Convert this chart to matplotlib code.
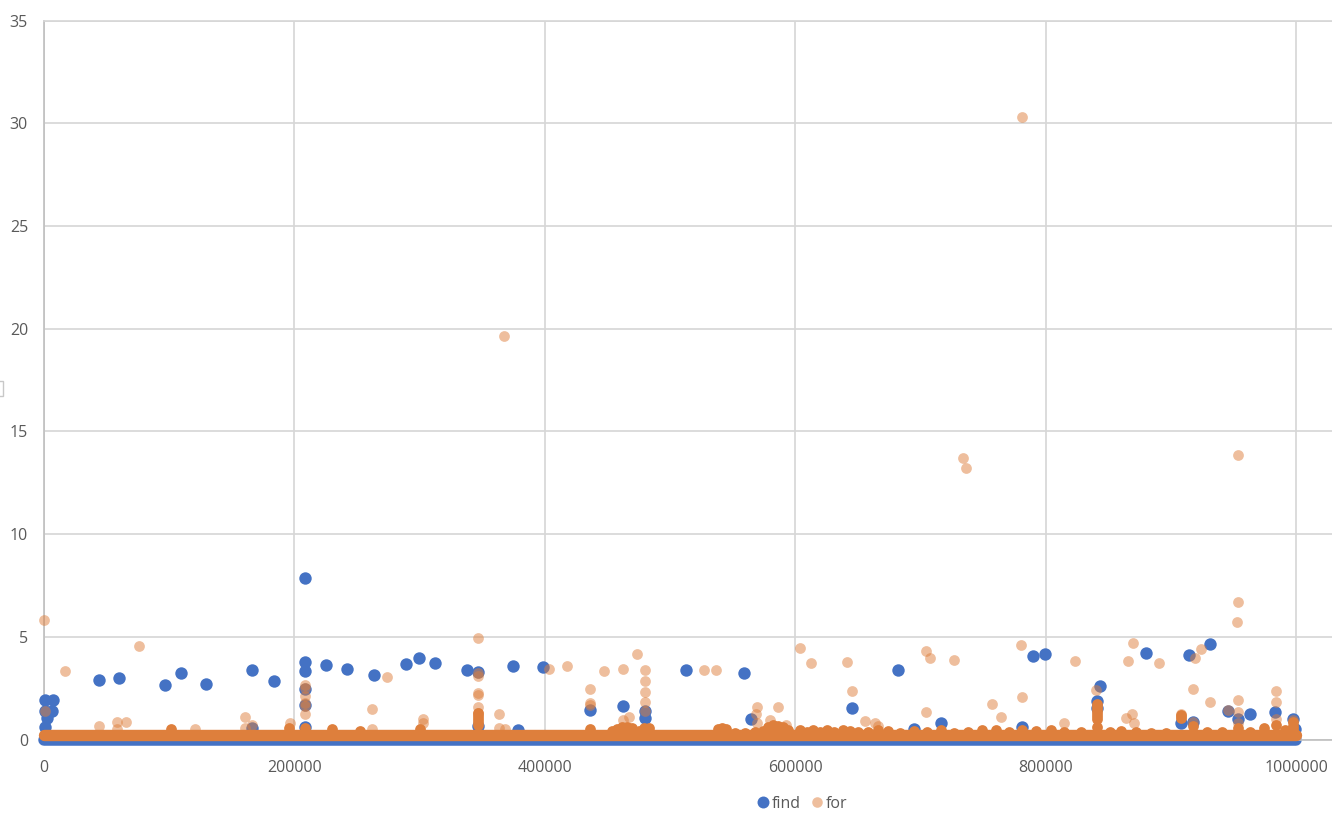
import matplotlib
matplotlib.use("Agg")
import matplotlib.pyplot as plt
from matplotlib.lines import Line2D
from matplotlib.patches import Rectangle

plt.rcParams['font.family'] = ['Open Sans', 'DejaVu Sans']

find_x = [500, 7200, 6400, 800, 2200, 500, 43700, 59900, 96400, 109200, 129400, 166100, 183500,
          208200, 208200, 208200, 208200, 208200, 225200, 242000, 263600, 289100, 299500, 312000,
          337600, 346600, 374300, 398300, 436100, 462200, 480000, 480000, 512500, 558800, 564400,
          645300, 681800, 694900, 378600, 716200, 781100, 789900, 799200, 843200, 841000, 841000,
          879900, 914300, 931300, 907900, 917700, 945700, 953600, 963000, 983200, 997600, 998900,
          346600, 166100, 208200]
find_y = [1.94, 1.94, 1.41, 1.41, 1.07, 0.63, 2.92, 3.01, 2.63, 3.26, 2.72, 3.40, 2.87,
          7.88, 3.79, 3.35, 2.48, 1.70, 3.65, 3.45, 3.16, 3.69, 3.99, 3.74,
          3.37, 3.27, 3.56, 3.51, 1.42, 1.62, 1.39, 1.04, 3.37, 3.22, 1.02,
          1.52, 3.37, 0.53, 0.45, 0.81, 0.62, 4.05, 4.15, 2.59, 1.86, 1.55,
          4.23, 4.10, 4.65, 0.81, 0.84, 1.38, 1.01, 1.26, 1.33, 1.01, 0.49,
          0.65, 0.55, 0.63]
find_band_x = [0, 1000000]
find_band_y = [0.0, 0.0]

for_x = [300, 16800, 75900, 500, 43900, 58100, 65200, 58100, 120600, 160500, 166100, 160500, 196500,
         208200, 208200, 208200, 208200, 208200, 208200, 273700, 262000, 262000, 302500, 302500,
         346600, 346600, 346600, 346600, 346600, 346600, 346600, 363400, 363400, 368200, 403300,
         417500, 436100, 436100, 436100, 447000, 462200, 473600, 480000, 480000, 480000, 480000,
         480000, 467000, 462200, 527100, 536500, 569500, 568400, 569500, 586200, 579800, 592400,
         603600, 612400, 641100, 645300, 655500, 664000, 666100, 704400, 707600, 726800, 780300,
         704400, 757200, 764100, 781100, 814400, 823500, 865500, 869500, 890300, 919100, 924100,
         917400, 931300, 840500, 864200, 869000, 870300, 907900, 907900, 917700, 945700, 953600,
         953600, 983900, 983900, 983900, 997600, 953600, 952800, 953600, 953600, 733900, 736300,
         781100, 367400]
for_y = [5.84, 3.35, 4.57, 1.38, 0.66, 0.84, 0.84, 0.53, 0.49, 1.08, 0.71, 0.55, 0.81,
         2.67, 2.53, 2.11, 1.78, 1.62, 1.26, 3.03, 1.47, 0.49, 1.02, 0.81,
         4.96, 3.08, 3.25, 2.27, 2.19, 1.57, 1.30, 1.22, 0.57, 0.52, 3.45,
         3.56, 2.48, 1.78, 1.68, 3.32, 3.45, 4.15, 3.40, 2.83, 2.30, 1.81,
         1.39, 1.10, 0.97, 3.37, 3.37, 1.60, 1.22, 0.81, 1.56, 0.97, 0.73,
         4.47, 3.71, 3.79, 2.38, 0.89, 0.81, 0.68, 4.33, 3.95, 3.85, 4.58,
         1.33, 1.72, 1.08, 2.06, 0.79, 3.81, 3.81, 4.70, 3.71, 3.95, 4.39,
         2.48, 1.81, 2.40, 1.04, 1.22, 0.81, 1.26, 1.10, 0.84, 1.43, 1.33,
         0.80, 2.35, 1.81, 1.00, 0.97, 6.71, 5.74, 1.94, 13.87, 13.71, 13.22,
         30.29, 19.64]
for_band_x = [0, 1000000]
for_band_y = [0.24, 0.24]
for_dense_x = [101400, 195900, 208200, 230000, 252400, 300300, 346600, 346600, 346600, 346600,
               346600, 436100, 454000, 458000, 462000, 466000, 470000, 475000, 479000, 483000,
               538000, 541500, 545000, 552000, 560000, 568000, 574000, 578000, 582000, 586000,
               590000, 594000, 603800, 609000, 614200, 620000, 625100, 631000, 638100, 644000,
               650000, 658000, 666100, 674100, 684000, 694900, 705000, 716200, 727000, 738000,
               749000, 760000, 771000, 781100, 792000, 804000, 815000, 828000, 841000, 841000,
               841000, 841000, 841000, 841000, 841000, 851000, 860000, 872000, 884000, 896000,
               907900, 907900, 917700, 929000, 941000, 953600, 963000, 974100, 983900, 991000,
               997600, 997600, 997600]
for_dense_y = [0.50, 0.55, 0.55, 0.50, 0.42, 0.50, 1.30, 1.15, 1.00, 0.85, 0.70, 0.50, 0.42, 0.52,
               0.60, 0.62, 0.55, 0.40, 0.55, 0.55, 0.50, 0.57, 0.50, 0.34, 0.32, 0.38, 0.42, 0.62,
               0.70, 0.68, 0.62, 0.48, 0.45, 0.38, 0.45, 0.36, 0.48, 0.38, 0.45, 0.40, 0.38, 0.36,
               0.45, 0.42, 0.34, 0.40, 0.38, 0.45, 0.34, 0.36, 0.44, 0.46, 0.36, 0.48, 0.40, 0.44,
               0.38, 0.36, 1.75, 1.60, 1.45, 1.30, 1.15, 1.00, 0.60, 0.38, 0.42, 0.36, 0.32, 0.34,
               1.20, 1.05, 0.65, 0.38, 0.36, 0.55, 0.38, 0.55, 0.70, 0.48, 0.85, 0.65, 0.50]

series_names = ['find', 'for']
x_ticks = [0, 200000, 400000, 600000, 800000, 1000000]
y_ticks = [0, 5, 10, 15, 20, 25, 30, 35]

BLUE = '#4472C4'
ORANGE = '#DE7F3C'
GRID = '#D6D6D6'
AXIS = '#BFBFBF'
TEXT = '#595959'

W, H = 1332, 824
fig = plt.figure(figsize=(W / 100, H / 100), dpi=100, facecolor='white')
ax = fig.add_axes([44 / W, (H - 739.5) / H, (W - 44) / W, 719 / H])
ax.set_xlim(0, 1028700)
ax.set_ylim(0, 35)
ax.set_xticks(x_ticks)
ax.set_yticks(y_ticks)
ax.set_xticklabels([str(v) for v in x_ticks])
ax.set_yticklabels([str(v) for v in y_ticks])
ax.tick_params(length=0, labelsize=11.5, labelcolor=TEXT)
ax.tick_params(axis='x', pad=15)
ax.tick_params(axis='y', pad=11.5)
ax.grid(True, color=GRID, lw=1.2, zorder=0)
ax.set_axisbelow(True)
ax.spines['right'].set_visible(False)
for side in ('left', 'top', 'bottom'):
    ax.spines[side].set_color(AXIS)
    ax.spines[side].set_linewidth(1.2)
ax.spines['top'].set_color(GRID)

ax.plot(find_band_x, find_band_y, color=BLUE, lw=8.3, solid_capstyle='round', clip_on=False, zorder=2)
ax.scatter(find_x, find_y, s=80, color=BLUE, linewidths=0, clip_on=False, zorder=3)
ax.scatter(for_x, for_y, s=60, color=ORANGE, alpha=0.5, linewidths=0, clip_on=False, zorder=4)
ax.scatter(for_dense_x, for_dense_y, s=60, color=ORANGE, linewidths=0, clip_on=False, zorder=5)
ax.plot(for_band_x, for_band_y, color=ORANGE, lw=8.2, solid_capstyle='round', clip_on=False, zorder=5)

handles = [Line2D([], [], ls='', marker='o', ms=8.6, mfc=BLUE, mec='none'),
           Line2D([], [], ls='', marker='o', ms=7.6, mfc=ORANGE, mec='none', alpha=0.5)]
fig.legend(handles, series_names, ncol=2, frameon=False, fontsize=11.5, labelcolor=TEXT,
           loc='center', bbox_to_anchor=(801 / W, (H - 804) / H),
           handletextpad=0.05, columnspacing=0.5, handlelength=1.0)

fig.add_artist(Rectangle((-3 / W, (H - 396) / H), 6 / W, 15 / H, transform=fig.transFigure,
                         fc='white', ec='#C8C8C8', lw=1))

fig.savefig('out.png', dpi=100)
